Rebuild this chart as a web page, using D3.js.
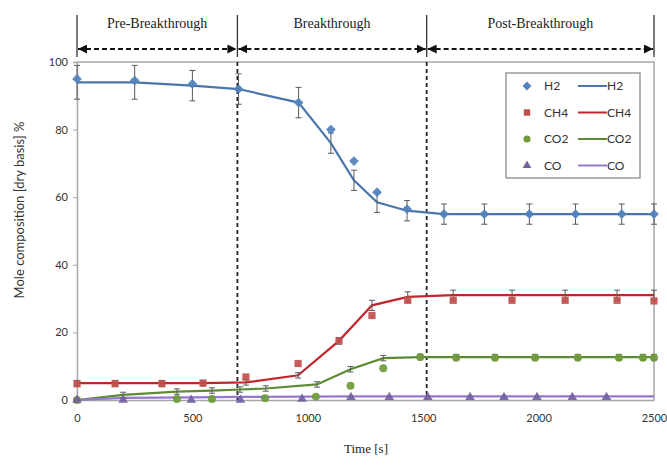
<!DOCTYPE html>
<html>
<head>
<meta charset="utf-8">
<script src="https://cdn.jsdelivr.net/npm/d3@7"></script>
<style>
  body { margin: 0; background: #fff; }
  svg { display: block; }
</style>
</head>
<body>
<script>
// phases along the time axis
var phaseEdges = [0, 695, 1515, 2500];
var phaseNames = ['Pre-Breakthrough', 'Breakthrough', 'Post-Breakthrough'];

var xTicks = [0, 500, 1000, 1500, 2000, 2500];
var yTicks = [0, 20, 40, 60, 80, 100];

// H2
var h2LineT = [0, 250, 500, 700, 960, 1100, 1200, 1300, 1430, 1590, 1765, 1960, 2160, 2360, 2500];
var h2LineV = [94, 94, 93, 92, 88, 76, 65, 58.5, 56, 55, 55, 55, 55, 55, 55];
var h2Err   = [5, 5, 4.5, 4.5, 4.5, 3, 3, 3, 3, 3, 3, 3, 3, 3, 3];
var h2PtsT  = [0, 250, 500, 700, 960, 1100, 1200, 1300, 1430, 1590, 1765, 1960, 2160, 2360, 2500];
var h2PtsV  = [95, 94.5, 93.5, 92, 88, 80, 70.7, 61.5, 56.5, 55, 55, 55, 55, 55, 55];

// CH4
var ch4LineT = [0, 165, 368, 546, 732, 958, 1135, 1278, 1433, 1630, 1885, 2115, 2340, 2500];
var ch4LineV = [5, 5, 5, 5, 5.2, 7.3, 17.5, 28, 30.5, 31, 31, 31, 31, 31];
var ch4Err   = [0.8, 0.8, 0.8, 0.8, 0.8, 0.8, 1, 1.5, 1.5, 1.5, 1.5, 1.5, 1.5, 1.5];
var ch4PtsT  = [0, 165, 368, 546, 732, 958, 1135, 1278, 1433, 1630, 1885, 2115, 2340, 2500];
var ch4PtsV  = [4.8, 4.8, 4.8, 5, 6.8, 10.8, 17.5, 25, 29.5, 29.5, 29.5, 29.5, 29.5, 29.3];

// CO2
var co2LineT = [0, 200, 433, 585, 706, 818, 1040, 1185, 1327, 1487, 1643, 1811, 1985, 2170, 2348, 2452, 2500];
var co2LineV = [0, 1.5, 2.5, 2.8, 3.1, 3.4, 4.6, 9.1, 12.4, 12.7, 12.7, 12.7, 12.7, 12.7, 12.7, 12.7, 12.7];
var co2Err   = [0.5, 0.8, 0.8, 0.8, 0.8, 0.8, 0.8, 0.8, 0.8, 0.8, 0.8, 0.8, 0.8, 0.8, 0.8, 0.8, 0.8];
var co2PtsT  = [0, 433, 585, 815, 1035, 1185, 1327, 1487, 1643, 1811, 1985, 2170, 2348, 2452, 2500];
var co2PtsV  = [0, 0.3, 0.3, 0.5, 1, 4.2, 9.4, 12.7, 12.5, 12.5, 12.5, 12.5, 12.5, 12.5, 12.5];

// CO
var coLineT = [0, 200, 500, 700, 1000, 1200, 1500, 2000, 2500];
var coLineV = [0, 0.6, 0.8, 0.9, 1, 1.1, 1.1, 1.1, 1.1];
var coPtsT  = [0, 200, 495, 708, 975, 1187, 1353, 1520, 1703, 1850, 1993, 2146, 2294];
var coPtsV  = [0, 0, 0, 0, 0.3, 0.8, 0.8, 0.8, 0.8, 0.8, 0.8, 0.8, 0.8];

var W = 667, H = 466;
var SANS = 'Lato, "Open Sans", sans-serif';
var SERIF = '"Liberation Serif", "DejaVu Serif", serif';

var svg = d3.select('body').append('svg')
  .attr('width', W)
  .attr('height', H);

var x = d3.scaleLinear().domain([0, 2500]).range([77, 654]);
var y = d3.scaleLinear().domain([0, 100]).range([400, 62]);

function zip(t, v, e) {
  return t.map(function (d, i) { return {t: d, v: v[i], e: e ? e[i] : 0}; });
}

// diamond = square turned by 45 degrees
var series = [
  {name: 'H2', color: '#4f81bd', line: '#4a76ae', sym: d3.symbolSquare, rot: 45, size: 48,
    lineData: zip(h2LineT, h2LineV, h2Err), pts: zip(h2PtsT, h2PtsV)},
  {name: 'CH4', color: '#c0504d', line: '#c0262b', sym: d3.symbolSquare, rot: 0, size: 52,
    lineData: zip(ch4LineT, ch4LineV, ch4Err), pts: zip(ch4PtsT, ch4PtsV)},
  {name: 'CO2', color: '#6f9a3a', line: '#5e8a34', sym: d3.symbolCircle, rot: 0, size: 50,
    lineData: zip(co2LineT, co2LineV, co2Err), pts: zip(co2PtsT, co2PtsV)},
  {name: 'CO', color: '#7460a0', line: '#9478cf', sym: d3.symbolTriangle, rot: 0, size: 40,
    lineData: zip(coLineT, coLineV), pts: zip(coPtsT, coPtsV)}
];

// frame
svg.append('path')
  .attr('d', 'M' + x(0) + ',' + y(100) + 'H' + x(2500) + 'V' + y(0))
  .attr('fill', 'none')
  .attr('stroke', '#a6a6a6')
  .attr('stroke-width', 1.5);

// axes
var yAxis = svg.append('g')
  .attr('transform', 'translate(' + x(0) + ',0)')
  .call(d3.axisLeft(y).tickValues(yTicks).tickFormat(d3.format('d')).tickSize(4).tickPadding(5));
var xAxis = svg.append('g')
  .attr('transform', 'translate(0,' + y(0) + ')')
  .call(d3.axisBottom(x).tickValues(xTicks).tickFormat(d3.format('d')).tickSize(0).tickPadding(14));
[xAxis, yAxis].forEach(function (a) {
  a.select('.domain').attr('stroke', '#a6a6a6').attr('stroke-width', 1.5);
  a.selectAll('.tick line').attr('stroke', '#a6a6a6');
  a.selectAll('.tick text')
    .style('font-family', SANS)
    .style('font-size', '11px')
    .attr('fill', '#333');
});

// axis titles
svg.append('text')
  .attr('transform', 'translate(24,210) rotate(-90)')
  .attr('text-anchor', 'middle')
  .style('font-family', SANS)
  .style('font-size', '13px')
  .attr('fill', '#333')
  .text('Mole composition [dry basis] %');

svg.append('text')
  .attr('x', 366)
  .attr('y', 453)
  .attr('text-anchor', 'middle')
  .style('font-family', SERIF)
  .style('font-size', '13px')
  .attr('fill', '#222')
  .text('Time [s]');

// phase dividers inside plot
svg.selectAll('.divider')
  .data(phaseEdges.slice(1, 3))
  .enter().append('line')
    .attr('x1', function (d) { return x(d); })
    .attr('x2', function (d) { return x(d); })
    .attr('y1', y(100))
    .attr('y2', y(0))
    .attr('stroke', '#222')
    .attr('stroke-width', 1.8)
    .attr('stroke-dasharray', '4,3');

// phase brackets above plot
svg.append('defs').selectAll('marker')
  .data(['start', 'end'])
  .enter().append('marker')
    .attr('id', function (d) { return 'arr-' + d; })
    .attr('viewBox', '0 0 10 10')
    .attr('refX', 10).attr('refY', 5)
    .attr('orient', function (d) { return d === 'end' ? 'auto' : 'auto-start-reverse'; })
    .attr('markerUnits', 'userSpaceOnUse')
    .attr('markerWidth', 9).attr('markerHeight', 9)
  .append('path')
    .attr('d', 'M0,0L10,5L0,10Z')
    .attr('fill', '#111');

svg.selectAll('.bracket')
  .data(phaseEdges)
  .enter().append('line')
    .attr('x1', function (d) { return x(d); })
    .attr('x2', function (d) { return x(d); })
    .attr('y1', 15)
    .attr('y2', 57)
    .attr('stroke', '#333')
    .attr('stroke-width', 1.3);

var phases = phaseNames.map(function (n, i) {
  return {name: n, a: phaseEdges[i], b: phaseEdges[i + 1]};
});

svg.selectAll('.arrow')
  .data(phases)
  .enter().append('line')
    .attr('x1', function (d) { return x(d.a) + 1; })
    .attr('x2', function (d) { return x(d.b) - 1; })
    .attr('y1', 49)
    .attr('y2', 49)
    .attr('stroke', '#111')
    .attr('stroke-width', 1.8)
    .attr('stroke-dasharray', '5,3')
    .attr('marker-start', 'url(#arr-start)')
    .attr('marker-end', 'url(#arr-end)');

svg.selectAll('.phase-label')
  .data(phases)
  .enter().append('text')
    .attr('x', function (d) { return (x(d.a) + x(d.b)) / 2; })
    .attr('y', 28)
    .attr('text-anchor', 'middle')
    .style('font-family', SERIF)
    .style('font-size', '14px')
    .attr('fill', '#222')
    .text(function (d) { return d.name; });

// series lines
var line = d3.line()
  .x(function (d) { return x(d.t); })
  .y(function (d) { return y(d.v); });

svg.selectAll('.series-line')
  .data(series)
  .enter().append('path')
    .attr('d', function (s) { return line(s.lineData); })
    .attr('fill', 'none')
    .attr('stroke', function (s) { return s.line; })
    .attr('stroke-width', 2.2);

// error bars
series.forEach(function (s) {
  var eb = svg.append('g').selectAll('g')
    .data(s.lineData.filter(function (d) { return d.e > 0; }))
    .enter().append('g')
      .attr('stroke', '#5a5a5a')
      .attr('stroke-width', 1);
  eb.append('line')
    .attr('x1', function (d) { return x(d.t); })
    .attr('x2', function (d) { return x(d.t); })
    .attr('y1', function (d) { return y(d.v + d.e); })
    .attr('y2', function (d) { return y(d.v - d.e); });
  eb.append('line')
    .attr('x1', function (d) { return x(d.t) - 3; })
    .attr('x2', function (d) { return x(d.t) + 3; })
    .attr('y1', function (d) { return y(d.v + d.e); })
    .attr('y2', function (d) { return y(d.v + d.e); });
  eb.append('line')
    .attr('x1', function (d) { return x(d.t) - 3; })
    .attr('x2', function (d) { return x(d.t) + 3; })
    .attr('y1', function (d) { return y(d.v - d.e); })
    .attr('y2', function (d) { return y(d.v - d.e); });
});

// markers
series.forEach(function (s) {
  svg.append('g').selectAll('path')
    .data(s.pts)
    .enter().append('path')
      .attr('transform', function (d) {
        return 'translate(' + x(d.t) + ',' + y(d.v) + ') rotate(' + s.rot + ')';
      })
      .attr('d', d3.symbol().type(s.sym).size(s.size))
      .attr('fill', s.color)
      .attr('fill-opacity', 0.92);
});

// legend
var lg = svg.append('g').attr('transform', 'translate(506,73)');
lg.append('rect')
  .attr('width', 134)
  .attr('height', 105)
  .attr('fill', '#fff')
  .attr('stroke', '#8c8c8c')
  .attr('stroke-width', 1.3);

var row = lg.selectAll('.row')
  .data(series)
  .enter().append('g')
    .attr('transform', function (d, i) { return 'translate(0,' + (13 + i * 26.5) + ')'; });
row.append('path')
  .attr('transform', function (s) { return 'translate(21,0) rotate(' + s.rot + ')'; })
  .attr('d', function (s) { return d3.symbol().type(s.sym).size(s.size * 0.8)(); })
  .attr('fill', function (s) { return s.color; });
row.append('text')
  .attr('x', 38)
  .attr('y', 4)
  .style('font-family', SANS)
  .style('font-size', '12px')
  .attr('fill', '#333')
  .text(function (s) { return s.name; });
row.append('line')
  .attr('x1', 72).attr('x2', 101)
  .attr('y1', 0).attr('y2', 0)
  .attr('stroke', function (s) { return s.line; })
  .attr('stroke-width', 2);
row.append('text')
  .attr('x', 101)
  .attr('y', 4)
  .style('font-family', SANS)
  .style('font-size', '12px')
  .attr('fill', '#333')
  .text(function (s) { return s.name; });
</script>
</body>
</html>
